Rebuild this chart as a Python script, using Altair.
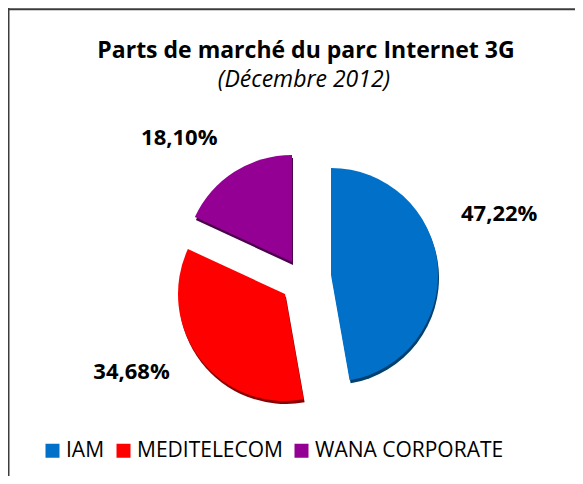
import altair as alt
import pandas as pd

# ---- data ----
operators = ["IAM", "MEDITELECOM", "WANA CORPORATE"]
shares = [47.22, 34.68, 18.10]
colors = ["#0070C8", "#FF0000", "#930093"]
shadow_colors = ["#00406E", "#8A0000", "#4A004A"]
title_text = ["Parts de marché du parc Internet 3G"]
subtitle_text = ["(Décembre 2012)"]

df = pd.DataFrame({"operator": operators, "share": shares,
                   "order": list(range(len(operators)))})

# ---- layout / style ----
W, H = 567, 468
CX, CY = 296, 272
R = 107
explode = {"IAM": (27, -5), "MEDITELECOM": (-19, 14), "WANA CORPORATE": (-12, -18)}
label_shift = {"IAM": (-4, -49), "MEDITELECOM": (-14, -30), "WANA CORPORATE": (-17, 27)}
FONT = "Open Sans"

theta_scale = alt.Scale(domain=[0, 100])
color_scale = alt.Scale(domain=operators, range=colors)
legend = alt.Legend(orient="none", legendX=34, legendY=432, direction="horizontal",
                    title=None, symbolType="square", symbolSize=196,
                    symbolStrokeWidth=0, labelFontSize=21, labelFont=FONT,
                    labelColor="#000000", labelOffset=3, columnPadding=8,
                    padding=0, labelLimit=400)

base = alt.Chart(df).transform_window(
    cum="sum(share)", sort=[alt.SortField("order")], frame=[None, 0]
).transform_calculate(
    start="datum.cum - datum.share",
    mid="datum.cum - datum.share / 2",
    label="replace(format(datum.share, '.2f'), '.', ',') + '%'",
)

layers = []
# borders (top & left of the frame)
frame_df = pd.DataFrame({"a": [0]})
layers.append(alt.Chart(frame_df).mark_rule(color="#3C3C3C", strokeWidth=2).encode(
    x=alt.value(0.5), y=alt.value(0), y2=alt.value(H)))
layers.append(alt.Chart(frame_df).mark_rule(color="#3C3C3C", strokeWidth=2).encode(
    x=alt.value(0), x2=alt.value(W), y=alt.value(1.2)))

for op, sc in zip(operators, shadow_colors):
    ex, ey = explode[op]
    sub = base.transform_filter(alt.datum.operator == op)
    layers.append(sub.mark_arc(radius=R, xOffset=ex + 1, yOffset=ey + 3).encode(
        theta=alt.Theta("start:Q", scale=theta_scale), theta2="cum:Q",
        x=alt.value(CX), y=alt.value(CY), color=alt.value(sc)))
    layers.append(sub.mark_arc(radius=R, xOffset=ex, yOffset=ey).encode(
        theta=alt.Theta("start:Q", scale=theta_scale), theta2="cum:Q",
        x=alt.value(CX), y=alt.value(CY),
        color=alt.Color("operator:N", scale=color_scale, legend=legend)))

for op in operators:
    dx, dy = label_shift[op]
    sub = base.transform_filter(alt.datum.operator == op)
    layers.append(sub.mark_text(radius=200, dx=dx, dy=dy, font=FONT, fontSize=22,
                                fontWeight="bold", color="#000000", baseline="middle",
                                align="center").encode(
        theta=alt.Theta("mid:Q", scale=theta_scale),
        x=alt.value(CX), y=alt.value(CY), text="label:N"))

layers.append(alt.Chart(pd.DataFrame({"t": title_text})).mark_text(
    font=FONT, fontSize=23, fontWeight="bold", color="#000000", align="center",
    baseline="alphabetic").encode(x=alt.value(298), y=alt.value(50), text="t:N"))
layers.append(alt.Chart(pd.DataFrame({"t": subtitle_text})).mark_text(
    font=FONT, fontSize=23, fontStyle="italic", color="#000000", align="center",
    baseline="alphabetic").encode(x=alt.value(296), y=alt.value(79), text="t:N"))

chart = alt.layer(*layers).properties(
    width=W, height=H, autosize=alt.AutoSizeParams(type="none"), padding=0,
    background="#FFFFFF",
).configure_view(stroke=None)

chart.save("out.html", embed_options={"renderer": "svg", "actions": False})
